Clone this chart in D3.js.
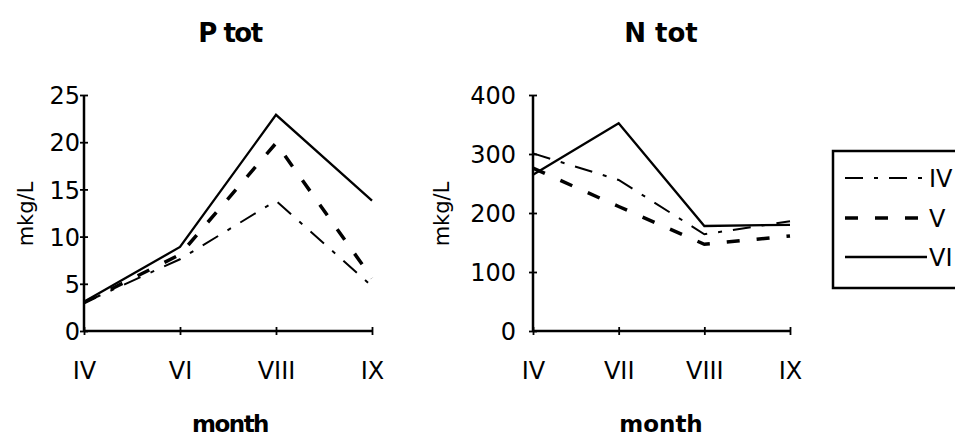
<!DOCTYPE html>
<html>
<head>
<meta charset="utf-8">
<script src="https://cdn.jsdelivr.net/npm/d3@7"></script>
<style>
  html, body { margin: 0; padding: 0; background: #fff; }
  svg { display: block; }
  text { font-family: "DejaVu Sans", sans-serif; fill: #000; }
</style>
</head>
<body>
<svg id="chart" width="955" height="436"></svg>
<script>
// ---- data ----
const monthsP = ["IV", "VI", "VIII", "IX"];
const monthsN = ["IV", "VII", "VIII", "IX"];
const seriesNames = ["IV", "V", "VI"];
const pIV = [3.0, 7.6, 13.8, 4.75];
const pV  = [3.0, 8.1, 19.9, 5.6];
const pVI = [3.1, 8.9, 22.9, 13.8];
const nIV = [301, 256, 164, 186];
const nV  = [276, 211, 147, 161];
const nVI = [265, 352, 178, 180];
const pTicks = [0, 5, 10, 15, 20, 25];
const nTicks = [0, 100, 200, 300, 400];

// ---- styles ----
const lineStyle = {
  IV: { width: 2, dash: "18,11,4,11" },
  V:  { width: 3.5, dash: "13,17" },
  VI: { width: 2.3, dash: null }
};

const svg = d3.select("#chart");
svg.append("rect").attr("width", 955).attr("height", 436).attr("fill", "#fff");

function panel(cfg) {
  const g = svg.append("g");
  const x = d3.scalePoint().domain(cfg.months).range(cfg.xr).padding(0);
  const y = d3.scaleLinear().domain([0, d3.max(cfg.ticks)]).range([331, 95]);

  // y axis
  const ya = g.append("g").attr("transform", `translate(${cfg.xr[0]},0)`)
    .call(d3.axisLeft(y).tickValues(cfg.ticks).tickSize(4).tickPadding(cfg.yPad).tickFormat(d3.format("d")));
  ya.select(".domain").attr("stroke", "#000").attr("stroke-width", 2.5)
    .attr("d", `M0,${y(0)}V${y(d3.max(cfg.ticks))}`);
  ya.selectAll(".tick line").attr("x1", 4).attr("stroke-width", 1.8);
  ya.selectAll(".tick text").style("font-size", "24px").attr("font-family", null).attr("dy", "0.36em");

  // x axis
  const xa = g.append("g").attr("transform", `translate(0,${y(0)})`)
    .call(d3.axisBottom(x).tickSize(4).tickPadding(27));
  xa.select(".domain").attr("stroke", "#000").attr("stroke-width", 2.5)
    .attr("d", `M${cfg.xr[0]},0H${cfg.xr[1]}`);
  xa.selectAll(".tick line").attr("y1", -4).attr("stroke-width", 1.8);
  xa.selectAll(".tick text").style("font-size", "24px").attr("font-family", null);

  // lines
  const line = d3.line().x((d, i) => x(cfg.months[i])).y(d => y(d));
  cfg.series.forEach((vals, k) => {
    const st = lineStyle[seriesNames[k]];
    g.append("path").datum(vals).attr("d", line)
      .attr("fill", "none").attr("stroke", "#000")
      .attr("stroke-width", st.width)
      .attr("stroke-dasharray", st.dash)
      .attr("stroke-linejoin", "miter");
  });

  // title
  g.append("text").attr("x", cfg.cx).attr("y", 42).attr("text-anchor", "middle")
    .style("font-size", "26px").style("font-weight", "bold")
    .style("letter-spacing", cfg.titleSpacing).text(cfg.title);
  // x title
  g.append("text").attr("x", cfg.cx).attr("y", 432).attr("text-anchor", "middle")
    .style("font-size", "23px").style("font-weight", "bold")
    .style("letter-spacing", cfg.titleSpacing).text("month");
  // y title
  g.append("text").attr("transform", `translate(${cfg.yLabelX},214) rotate(-90)`)
    .attr("text-anchor", "middle").style("font-size", "21px").text("mkg/L");
}

panel({ months: monthsP, ticks: pTicks, xr: [84, 372], yPad: 0,
  series: [pIV, pV, pVI], title: "P tot", cx: 230, yLabelX: 33, titleSpacing: "-1.5px" });
panel({ months: monthsN, ticks: nTicks, xr: [533, 790], yPad: 13,
  series: [nIV, nV, nVI], title: "N tot", cx: 661, yLabelX: 449, titleSpacing: "0px" });

// legend
const leg = svg.append("g");
leg.append("rect").attr("x", 833).attr("y", 151).attr("width", 140).attr("height", 137)
  .attr("fill", "none").attr("stroke", "#000").attr("stroke-width", 2.5);
const rowY = [178, 218, 257];
seriesNames.forEach((s, i) => {
  const st = lineStyle[s];
  leg.append("line").attr("x1", 845).attr("x2", 927).attr("y1", rowY[i]).attr("y2", rowY[i])
    .attr("stroke", "#000").attr("stroke-width", st.width).attr("stroke-dasharray", st.dash);
  leg.append("text").attr("x", 929).attr("y", rowY[i] + 9).style("font-size", "24px").text(s);
});
</script>
</body>
</html>
